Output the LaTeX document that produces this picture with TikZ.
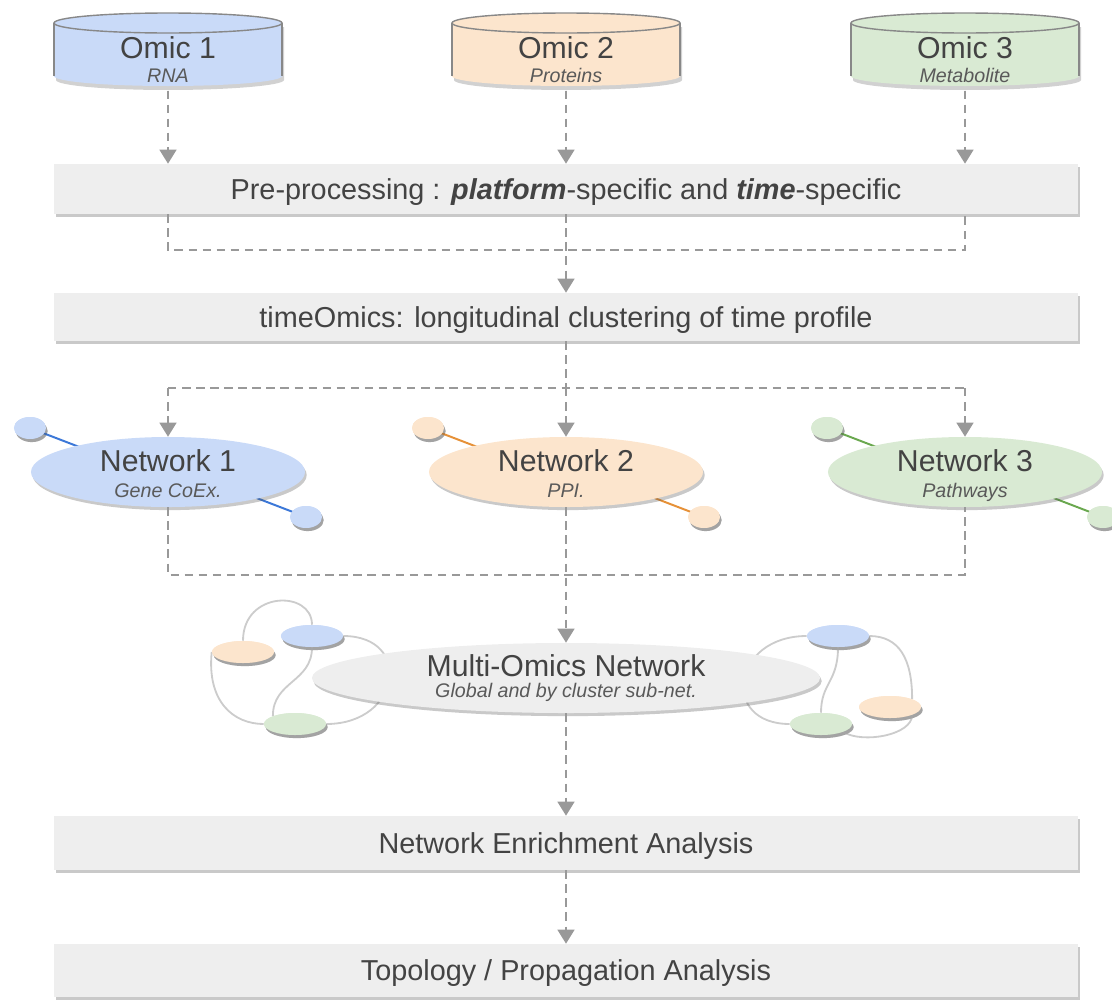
\documentclass[tikz,border=0pt]{standalone}
\usepackage{fontspec}
\setmainfont{Liberation Sans}
\usetikzlibrary{shapes.geometric,shadows,arrows.meta,calc}
\definecolor{txt}{HTML}{434343}
\definecolor{subc}{HTML}{595959}
\definecolor{bfill}{HTML}{C9DAF8}
\definecolor{ofill}{HTML}{FCE5CD}
\definecolor{gfill}{HTML}{D9EAD3}
\definecolor{bline}{HTML}{3C78D8}
\definecolor{oline}{HTML}{E69138}
\definecolor{gline}{HTML}{6AA84F}
\definecolor{boxfill}{HTML}{EEEEEE}
\definecolor{dashc}{HTML}{999999}
\definecolor{curvec}{HTML}{CCCCCC}
\definecolor{cylb}{HTML}{888888}
\tikzset{
 shad/.style={drop shadow={shadow xshift=1.2pt, shadow yshift=-2.2pt, opacity=0.3, fill=black!70}},
 procbox/.style={rectangle, fill=boxfill, minimum width=25.6cm, minimum height=1.25cm, inner sep=0pt, shad, text=txt, font=\fontsize{20.5}{24}\selectfont, text height=14.7pt, text depth=0pt},
 netell/.style={ellipse, minimum width=6.85cm, minimum height=1.75cm, inner sep=0pt, shad},
 satell/.style={ellipse, minimum width=0.8cm, minimum height=0.55cm, inner sep=0pt, shad},
 clusell/.style={ellipse, minimum width=1.55cm, minimum height=0.55cm, inner sep=0pt, shad},
 ttl/.style={text=txt, font=\fontsize{21.5}{26}\selectfont, inner sep=0pt, anchor=base, text height=15.4pt, text depth=0pt},
 subt/.style={text=subc, font=\fontsize{14}{17}\selectfont\itshape, inner sep=0pt, anchor=base, text height=10pt, text depth=0pt},
 flow/.style={draw=dashc, line width=1.4pt, dash pattern=on 6pt off 4pt},
 arr/.style={flow, -{Triangle[width=12pt,length=10pt]}},
 ccurve/.style={draw=curvec, line width=1.3pt},
 satline/.style={line width=1.4pt},
}
\begin{document}
\begin{tikzpicture}[x=0.025cm, y=-0.025cm]
\useasboundingbox (0,0) rectangle (1112,1000);
\clip (0,0) rectangle (1112,1000);

% ---------- cylinders ----------
\foreach \c/\col/\t/\s/\n in {168/bfill/Omic 1/RNA/o1, 566/ofill/Omic 2/Proteins/o2, 965/gfill/Omic 3/Metabolite/o3}{
  \fill[black, opacity=0.18] ({\c-112},27) -- ({\c-112},80) .. controls ({\c-112},85.5) and ({\c-61},90) .. (\c,90) .. controls ({\c+61},90) and ({\c+116},85.5) .. ({\c+116},80) -- ({\c+116},27) -- cycle;
  \fill[\col] ({\c-114},23) -- ({\c-114},76) .. controls ({\c-114},81.52) and ({\c-62.97},86) .. (\c,86) .. controls ({\c+62.97},86) and ({\c+114},81.52) .. ({\c+114},76) -- ({\c+114},23) -- cycle;
  \draw[cylb, line width=1pt] ({\c-114},23) -- ({\c-114},76);
  \draw[cylb, line width=1pt] ({\c+114},23) -- ({\c+114},76);
  \draw[cylb, line width=1pt, fill=\col] (\c,23) ellipse [x radius=114, y radius=10];
  \node[minimum width=5.7cm, minimum height=1.825cm, inner sep=0pt] (\n) at (\c,49.5) {};
  \node[ttl] (\n t) at (\c,58.5) {\t};
  \node[subt] (\n s) at (\c,82) {\s};
}

% ---------- process boxes ----------
\node[procbox] (pre) at (566,189) {Pre-processing : \textbf{\textit{platform}}-specific and \textbf{\textit{time}}-specific};
\node[procbox, minimum height=1.2cm] (time) at (566,317) {timeOmics: longitudinal clustering of time profile};
\node[procbox, minimum height=1.35cm] (enr) at (566,843) {Network Enrichment Analysis};
\node[procbox, minimum height=1.325cm] (topo) at (566,970.5) {Topology / Propagation Analysis};

% ---------- omic -> pre ----------
\foreach \n in {o1,o2,o3}{
  \draw[arr, shorten <=3pt] (\n.south) -- (\n.south |- pre.north);
}

% ---------- pre -> time ----------
\coordinate (j1l) at (168,250);
\coordinate (j1r) at (965,250);
\draw[flow] (pre.south -| o1.south) -- (j1l) -- (j1r) -- (pre.south -| o3.south);
\draw[arr] (pre.south) -- (time.north);

% ---------- networks ----------
\foreach \c/\col/\lc/\t/\s/\n in {168/bfill/bline/Network 1/Gene CoEx./n1, 566/ofill/oline/Network 2/PPI./n2, 965/gfill/gline/Network 3/Pathways/n3}{
  \node[satell, fill=\col] (\n a) at ({\c-138},428) {};
  \node[satell, fill=\col] (\n b) at ({\c+138},517) {};
  \draw[satline, \lc] (\n a.center) -- ({\c-60},458);
  \draw[satline, \lc] (\n b.center) -- ({\c+60},487);
  \node[netell, fill=\col] (\n) at (\c,472) {};
  \node[ttl] (\n t) at (\c,471) {\t};
  \node[subt] (\n s) at (\c,497) {\s};
}
% redraw satellites above their lines
\foreach \c/\col/\n in {168/bfill/n1, 566/ofill/n2, 965/gfill/n3}{
  \node[satell, fill=\col] at (\n a) {};
  \node[satell, fill=\col] at (\n b) {};
}

% ---------- time -> networks ----------
\coordinate (j2l) at (168,388);
\coordinate (j2r) at (965,388);
\coordinate (j2) at (566,388);
\draw[flow] (time.south) -- (j2);
\draw[flow] (j2l) -- (j2r);
\draw[arr] (j2l) -- (n1.north);
\draw[arr] (j2) -- (n2.north);
\draw[arr] (j2r) -- (n3.north);

% ---------- networks -> multi ----------
\coordinate (j3l) at (168,575);
\coordinate (j3r) at (965,575);
\draw[flow] (n1.south) -- (j3l) -- (j3r) -- (n3.south);

% ---------- multi-omics cluster curves ----------
\coordinate (lbp) at (312,636);
\coordinate (lop) at (243,652);
\coordinate (lgp) at (295,724);
\coordinate (rbp) at (838,636);
\coordinate (rop) at (890,707);
\coordinate (rgp) at (821,724);
\node[clusell, fill=bfill, drop shadow={opacity=0}] (lb) at (lbp) {};
\node[clusell, fill=ofill, drop shadow={opacity=0}] (lo) at (lop) {};
\node[clusell, fill=gfill, drop shadow={opacity=0}] (lg) at (lgp) {};
\node[clusell, fill=bfill, drop shadow={opacity=0}] (rb) at (rbp) {};
\node[clusell, fill=ofill, drop shadow={opacity=0}] (ro) at (rop) {};
\node[clusell, fill=gfill, drop shadow={opacity=0}] (rg) at (rgp) {};

\draw[ccurve] (lo.north) .. controls +(0,-50) and +(0,-35) .. (lb.north);
\draw[ccurve] (lb.east) .. controls +(70,0) and +(75,0) .. (lg.east);
\draw[ccurve] (lb.south) .. controls +(0,35) and +(0,-35) .. (lg.north west);
\draw[ccurve] (lo.west) .. controls +(-5,50) and +(-30,0) .. (lg.west);
\draw[ccurve] (rb.west) .. controls +(-75,0) and +(-70,0) .. (rg.west);
\draw[ccurve] (rb.east) .. controls +(30,0) and +(0,-40) .. (ro.north east);
\draw[ccurve] (rb.south) .. controls +(0,35) and +(0,-30) .. (rg.north);
\draw[ccurve] (rg.south east) .. controls +(20,12) and +(0,20) .. (ro.south east);

\node[ellipse, minimum width=12.7cm, minimum height=1.75cm, inner sep=0pt, fill=boxfill, shad] (multi) at (566,678) {};
\node[ttl] (multit) at (566,676) {Multi-Omics Network};
\node[subt] (multis) at (566,697) {Global and by cluster sub-net.};

\node[clusell, fill=bfill] at (lb) {};
\node[clusell, fill=ofill] at (lo) {};
\node[clusell, fill=gfill] at (lg) {};
\node[clusell, fill=bfill] at (rb) {};
\node[clusell, fill=ofill] at (ro) {};
\node[clusell, fill=gfill] at (rg) {};

\draw[arr] (n2.south) -- (multi.north);
\draw[arr] (multi.south) -- (enr.north);
\draw[arr] (enr.south) -- (topo.north);
\end{tikzpicture}
\end{document}
